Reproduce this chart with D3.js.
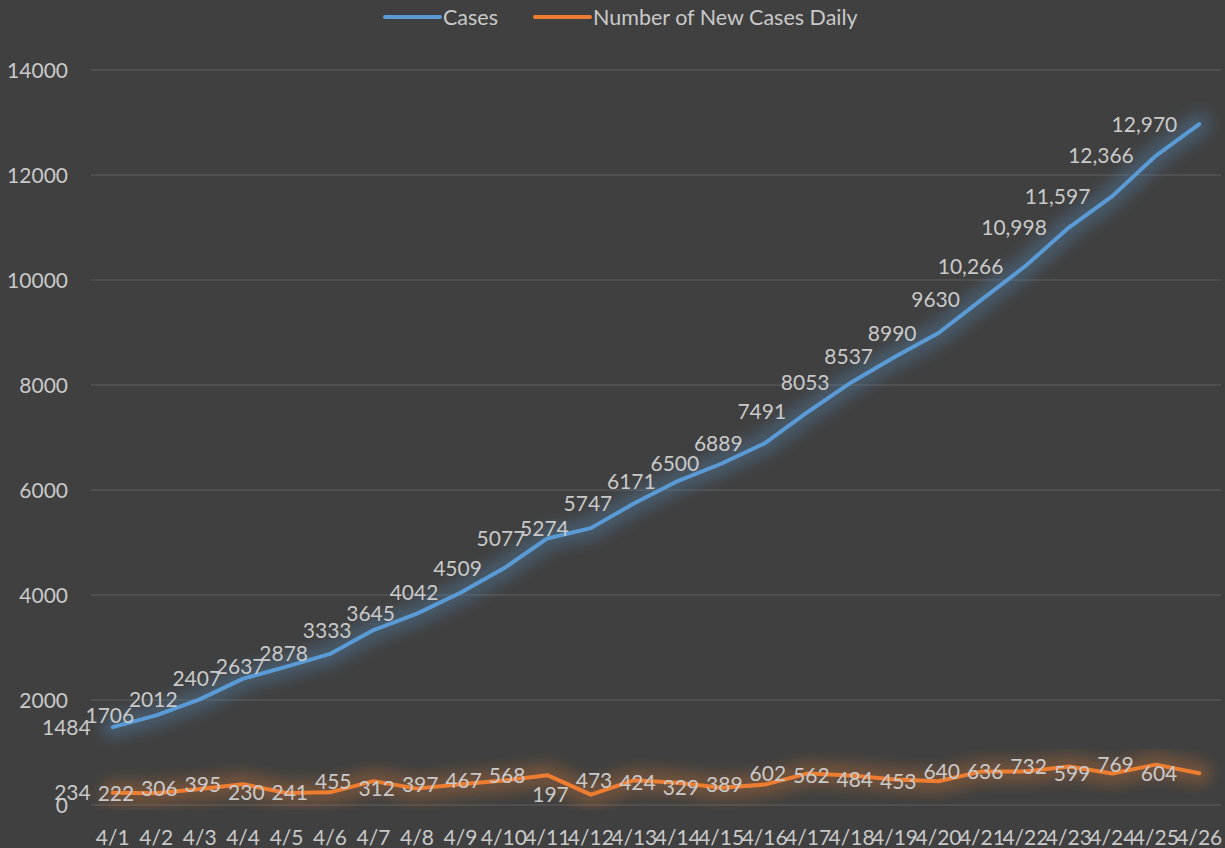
<!DOCTYPE html>
<html>
<head>
<meta charset="utf-8">
<script src="https://cdn.jsdelivr.net/npm/d3@7"></script>
<style>
  body { margin: 0; background: #404040; }
  text { font-family: Lato, "Open Sans", sans-serif; }
</style>
</head>
<body>
<div id="chart"></div>
<script>
// data
const dates = ["4/1","4/2","4/3","4/4","4/5","4/6","4/7","4/8","4/9","4/10","4/11","4/12","4/13",
               "4/14","4/15","4/16","4/17","4/18","4/19","4/20","4/21","4/22","4/23","4/24","4/25","4/26"];
const cases = [1484,1706,2012,2407,2637,2878,3333,3645,4042,4509,5077,5274,5747,
               6171,6500,6889,7491,8053,8537,8990,9630,10266,10998,11597,12366,12970];
const newCases = [234,222,306,395,230,241,455,312,397,467,568,197,473,
                  424,329,389,602,562,484,453,640,636,732,599,769,604];
const yTicks = [0,2000,4000,6000,8000,10000,12000,14000];

const W = 1225, H = 848;
const margin = {top: 70, right: 4, bottom: 43, left: 91};
const textColor = "#c9c9c9";

const svg = d3.select("#chart")
  .append("svg")
    .attr("width", W)
    .attr("height", H);

svg.append("rect").attr("width", W).attr("height", H).attr("fill", "#404040");

const x = d3.scalePoint()
  .domain(dates)
  .range([margin.left, W - margin.right])
  .padding(0.5);

const y = d3.scaleLinear()
  .domain([0, 14000])
  .range([H - margin.bottom, margin.top]);

// glow filter
const defs = svg.append("defs");
defs.append("filter").attr("id", "blur")
    .attr("x", "-10%").attr("y", "-50%").attr("width", "120%").attr("height", "200%")
  .append("feGaussianBlur").attr("stdDeviation", 7);

// gridlines
svg.append("g")
  .selectAll("line")
  .data(yTicks)
  .join("line")
    .attr("x1", margin.left)
    .attr("x2", W - margin.right)
    .attr("y1", d => y(d))
    .attr("y2", d => y(d))
    .attr("stroke", "#545454")
    .attr("stroke-width", 1.3);

// y axis labels
svg.append("g")
  .selectAll("text")
  .data(yTicks)
  .join("text")
    .attr("x", 68)
    .attr("y", d => y(d))
    .attr("dy", "0.36em")
    .attr("text-anchor", "end")
    .attr("font-size", "21px")
    .attr("fill", textColor)
    .text(d => d);

// x axis labels
svg.append("g")
  .selectAll("text")
  .data(dates)
  .join("text")
    .attr("x", d => x(d))
    .attr("y", 845)
    .attr("text-anchor", "middle")
    .attr("font-size", "21px")
    .attr("fill", textColor)
    .text(d => d);

const series = [
  {name: "Cases", values: cases, color: "#5b9bd5"},
  {name: "Number of New Cases Daily", values: newCases, color: "#ed7d31"}
];

const line = d3.line()
  .x((d, i) => x(dates[i]))
  .y(d => y(d));

series.forEach(s => {
  // glow
  svg.append("path")
    .datum(s.values)
    .attr("d", line)
    .attr("fill", "none")
    .attr("stroke", s.color)
    .attr("stroke-opacity", 0.28)
    .attr("stroke-width", 24)
    .attr("stroke-linejoin", "round")
    .attr("stroke-linecap", "round")
    .attr("filter", "url(#blur)");
  svg.append("path")
    .datum(s.values)
    .attr("d", line)
    .attr("fill", "none")
    .attr("stroke", s.color)
    .attr("stroke-width", 4)
    .attr("stroke-linejoin", "round")
    .attr("stroke-linecap", "round");
});

// data labels, placed to the left of each point
const fmt = v => v >= 10000 ? d3.format(",")(v) : String(v);
series.forEach(s => {
  svg.append("g")
    .selectAll("text")
    .data(s.values)
    .join("text")
      .attr("x", (d, i) => x(dates[i]) - 22)
      .attr("y", d => y(d))
      .attr("dy", "0.36em")
      .attr("text-anchor", "end")
      .attr("font-size", "21px")
      .attr("fill", textColor)
      .text(d => fmt(d));
});

// legend
const legend = svg.append("g");
const items = [
  {x: 385, s: series[0]},
  {x: 535, s: series[1]}
];
items.forEach(it => {
  legend.append("line")
    .attr("x1", it.x).attr("x2", it.x + 55)
    .attr("y1", 17).attr("y2", 17)
    .attr("stroke", it.s.color)
    .attr("stroke-width", 4)
    .attr("stroke-linecap", "round");
  legend.append("text")
    .attr("x", it.x + 58)
    .attr("y", 17)
    .attr("dy", "0.36em")
    .attr("font-size", "21.5px")
    .attr("fill", textColor)
    .text(it.s.name);
});
</script>
</body>
</html>
